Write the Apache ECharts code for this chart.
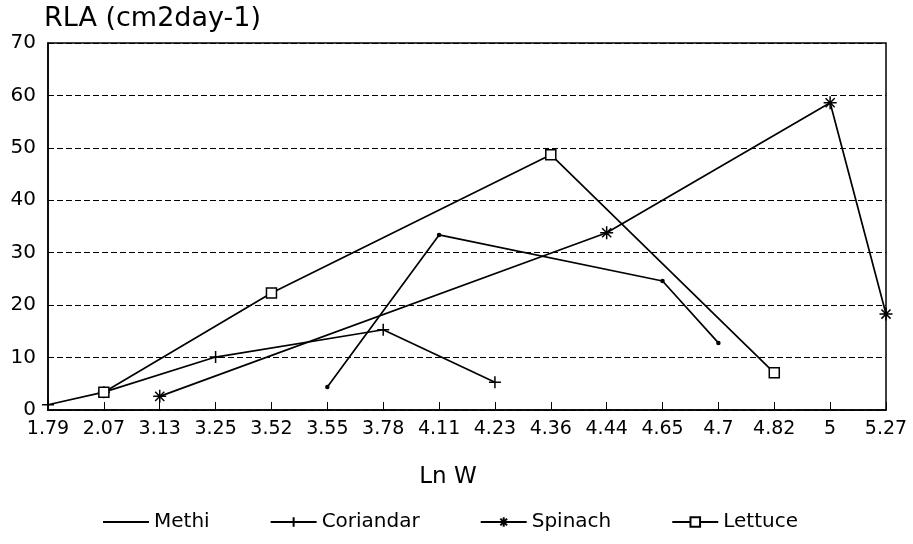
<!DOCTYPE html>
<html>
<head>
<meta charset="utf-8">
<script src="https://cdn.jsdelivr.net/npm/echarts@6/dist/echarts.min.js"></script>
<style>html,body{margin:0;padding:0;background:#fff}#c{width:913px;height:544px}</style>
</head>
<body>
<div id="c"></div>
<script>
var categories = ['1.79','2.07','3.13','3.25','3.52','3.55','3.78','4.11','4.23','4.36','4.44','4.65','4.7','4.82','5','5.27'];
var methi     = [null, null, null, null, null, 4.4, null, 33.4, null, null, null, 24.6, 12.8, null, null, null];
var coriandar = [1.0, 3.4, null, 10.1, null, null, 15.3, null, 5.3, null, null, null, null, null, null, null];
var spinach   = [null, null, 2.6, null, null, null, null, null, null, null, 33.8, null, null, null, 58.6, 18.3];
var lettuce   = [null, 3.4, null, null, 22.3, null, null, null, null, 48.7, null, null, null, 7.1, null, null];
var yTicks = [0, 10, 20, 30, 40, 50, 60, 70];

var WIDE = 'DejaVu Sans, sans-serif';
var plus = 'path://M5,0L5,10M0,5L10,5';
var star = 'path://M5,0L5,10M0,5L10,5M1.5,1.5L8.5,8.5M8.5,1.5L1.5,8.5';

function mk(name, data, symbol, size, fill) {
  return {
    name: name, type: 'line', data: data, connectNulls: true,
    symbol: symbol, symbolSize: size, showSymbol: true,
    lineStyle: {color: '#000', width: 1.7},
    itemStyle: {color: fill, borderColor: '#000', borderWidth: 1.5},
    emphasis: {disabled: true}, animation: false
  };
}

var chart = echarts.init(document.getElementById('c'));
chart.setOption({
  animation: false,
  backgroundColor: '#fff',
  grid: {left: 48, right: 27, top: 43, bottom: 134, show: true, borderColor: '#000', borderWidth: 1.5},
  legend: {
    bottom: 7, left: 97, itemWidth: 46, itemHeight: 12, itemGap: 60,
    textStyle: {fontFamily: WIDE, fontSize: 20, color: '#000'},
    data: [
      {name: 'Methi', itemStyle: {opacity: 0}},
      'Coriandar', 'Spinach', 'Lettuce'
    ]
  },
  xAxis: {
    type: 'category', data: categories, boundaryGap: false,
    name: 'Ln W', nameLocation: 'middle', nameGap: 56,
    nameTextStyle: {fontFamily: WIDE, fontSize: 23, color: '#000', padding: [0, 38, 0, 0]},
    axisLine: {lineStyle: {color: '#000', width: 1.5}},
    axisTick: {inside: true, length: 8, lineStyle: {color: '#000', width: 1}},
    axisLabel: {fontFamily: WIDE, fontSize: 19, color: '#000', margin: 10, interval: 0},
    splitLine: {show: false}
  },
  yAxis: {
    type: 'value', min: yTicks[0], max: yTicks[yTicks.length - 1], interval: 10,
    name: 'RLA (cm2day-1)', nameLocation: 'end', nameGap: 11,
    nameTextStyle: {fontFamily: WIDE, fontSize: 27, color: '#000', align: 'left', padding: [0, 0, 0, -4]},
    axisLine: {show: true, lineStyle: {color: '#000', width: 1.5}},
    axisTick: {show: false},
    axisLabel: {fontFamily: WIDE, fontSize: 20, color: '#000', margin: 12},
    splitLine: {show: true, lineStyle: {color: '#000', width: 1, type: [6, 3]}}
  },
  series: [
    mk('Methi', methi, 'circle', 3, '#000'),
    mk('Coriandar', coriandar, plus, 12, '#000'),
    mk('Spinach', spinach, star, 13, '#000'),
    mk('Lettuce', lettuce, 'rect', 10, '#fff')
  ]
});
</script>
</body>
</html>
